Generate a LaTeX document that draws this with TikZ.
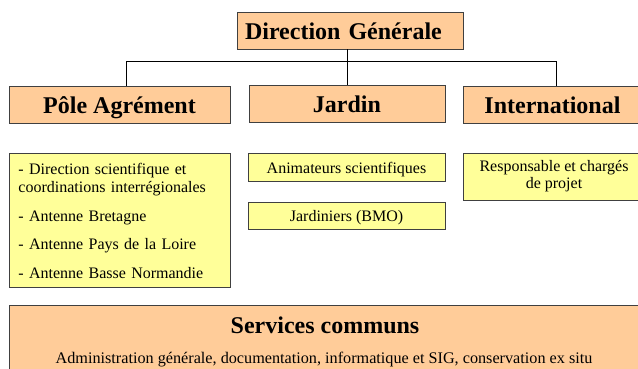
\documentclass[tikz,border=0pt]{standalone}
\usepackage{fontspec}
\setmainfont{Liberation Serif}
\usepackage{xcolor}
\usepackage{tikz}
\definecolor{peach}{HTML}{FFCC99}
\definecolor{paleyellow}{HTML}{FFFF99}
\definecolor{boxline}{HTML}{404040}
\tikzset{
headbox/.style={rectangle, draw=boxline, fill=peach, line width=0.9pt, inner sep=0pt, minimum height=37pt, text height=18pt, text depth=0pt, font=\bfseries\fontsize{24}{28}\selectfont},
itembox/.style={rectangle, draw=boxline, fill=paleyellow, line width=0.9pt, inner sep=0pt, font=\fontsize{16}{17}\selectfont},
listbox/.style={rectangle, draw=boxline, fill=paleyellow, line width=0.9pt, inner xsep=9pt, inner ysep=0pt, align=left, font=\fontsize{16}{18.5}\selectfont},
basebox/.style={rectangle, draw=boxline, fill=peach, line width=0.9pt, inner sep=0pt},
linkline/.style={black, line width=0.9pt},
}

\begin{document}
\begin{tikzpicture}[x=1pt,y=-1pt]
        \clip (0,0) rectangle (638,368);
        \fill[white] (0,0) rectangle (638,368);
        % top level
        \node[headbox, inner xsep=8pt, text width=210pt, align=left] at (350,30.5) (dg) {Direction Générale};
        \node[headbox, minimum width=221pt] at (119.5,104.5) (pole) {Pôle Agrément};
        \node[headbox, minimum width=196pt] at (347,103.5) (jardin) {Jardin};
        \node[headbox, minimum width=179pt] at (552.5,104.5) (intl) {International};
        \coordinate (barL) at (126,61);
        \coordinate (barR) at (556,61);
        \draw[linkline] (barL) -- (barR);
        \draw[linkline] (jardin.north) -- (jardin.north |- dg.south);
        \draw[linkline] (barL) -- (barL |- pole.north);
        \draw[linkline] (barR) -- (barR |- intl.north);
        % lists
        \node[listbox, anchor=north west, text width=203pt, minimum height=134pt] at (9,153) (polelist) {- Direction scientifique et\\coordinations interrégionales\\[10pt]- Antenne Bretagne\\[10pt]- Antenne Pays de la Loire\\[10pt]- Antenne Basse Normandie};
        \node[itembox, minimum width=197pt, minimum height=28pt, text height=12pt, text depth=0pt] at (346.5,167) (anim) {Animateurs scientifiques};
        \node[itembox, minimum width=197pt, minimum height=27pt, text height=12pt, text depth=0pt] at (346.5,215.5) (jardiniers) {Jardiniers (BMO)};
        \node[itembox, minimum width=182pt, minimum height=47pt, align=center] at (554,176.5) (resp) {Responsable et chargés\\de projet};
        % services communs
        \node[basebox, anchor=north west, minimum width=631pt, minimum height=70pt] at (9,305) (services) {};
        \node[anchor=base, inner sep=0pt, font=\bfseries\fontsize{24}{28}\selectfont] at (325,333) (servtitle) {Services communs};
        \node[anchor=base, inner sep=0pt, font=\fontsize{16.2}{19}\selectfont] at (324,363) (servtext) {Administration générale, documentation, informatique et SIG, conservation ex situ};
    \end{tikzpicture}
\end{document}
